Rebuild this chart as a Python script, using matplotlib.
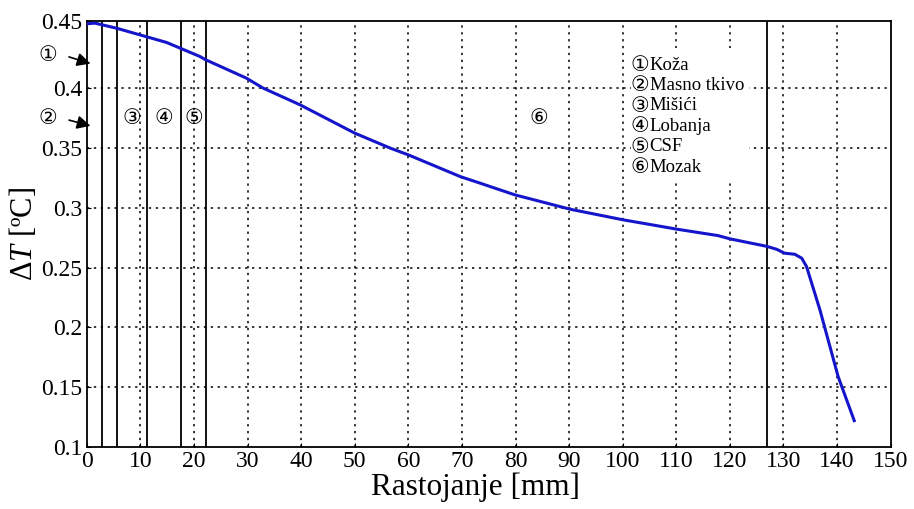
import matplotlib
matplotlib.use('Agg')
import matplotlib.pyplot as plt
from matplotlib.patches import Rectangle

plt.rcParams['font.family'] = ['Liberation Serif', 'DejaVu Sans']
plt.rcParams['mathtext.fontset'] = 'custom'
plt.rcParams['mathtext.it'] = 'Liberation Serif:italic'
plt.rcParams['mathtext.rm'] = 'Liberation Serif'

# curve
x_mm = [0, 1.5, 5.5, 14.9, 21.1, 22.2, 29.8, 32.9, 39.8, 50.0, 56.6, 60.0, 69.7,
        73.4, 77.1, 79.9, 90.2, 100.1, 110.1, 117.8, 120.0, 126.8, 128.7, 130.2,
        132.1, 133.4, 134.3, 136.8, 140.2, 143.2]
dT = [0.4540, 0.4546, 0.4504, 0.4384, 0.4267, 0.4239, 0.4085, 0.4002, 0.3862,
      0.3625, 0.3500, 0.3443, 0.3261, 0.3206, 0.3150, 0.3108, 0.2988, 0.2899,
      0.2821, 0.2767, 0.2740, 0.2678, 0.2653, 0.2620, 0.2611, 0.2578, 0.2508,
      0.2145, 0.1586, 0.1218]

# tissue boundaries [mm]
boundaries = [2.8, 5.7, 11.2, 17.6, 22.2, 126.9]

layer_names = ['Koža', 'Masno tkivo', 'Mišići', 'Lobanja', 'CSF', 'Mozak']
circled = ['①', '②', '③', '④', '⑤', '⑥']

x_ticks = list(range(0, 151, 10))
y_ticks = [0.1, 0.15, 0.2, 0.25, 0.3, 0.35, 0.4]
y_top = 0.4566

circ = dict(family='DejaVu Sans', fontsize=15, ha='center', va='center')

fig = plt.figure(figsize=(9.14, 5.09), dpi=100)
ax = fig.add_axes([0.0949, 0.1224, 0.8796, 0.8369])

ax.set_xlim(0, 150)
ax.set_ylim(0.1, y_top)
ax.set_xticks(x_ticks)
ax.set_yticks(y_ticks + [y_top])
ax.set_yticklabels(['0.1', '0.15', '0.2', '0.25', '0.3', '0.35', '0.4', '0.45'])
ax.tick_params(direction='in', length=3, labelsize=17, pad=3)

for xt in x_ticks[1:-1]:
    ax.axvline(xt, color='k', ls=(0, (1.5, 3)), lw=1.1, zorder=1)
for yt in y_ticks[1:]:
    ax.axhline(yt, color='k', ls=(0, (1.5, 3)), lw=1.1, zorder=1)

for b in boundaries:
    ax.axvline(b, color='k', lw=1.3, zorder=2)

ax.plot(x_mm, dT, color='#1515cc', lw=2.2, zorder=4)

for sp in ax.spines.values():
    sp.set_linewidth(1.3)

# white box behind the layer list
ax.add_patch(Rectangle((0.677, 0.626), 0.147, 0.31, transform=ax.transAxes,
                       facecolor='white', edgecolor='none', zorder=3))
for i, (c, name) in enumerate(zip(circled, layer_names)):
    yy = 0.896 - i * 0.048
    ax.text(0.6885, yy, c, transform=ax.transAxes, zorder=5, **circ)
    ax.text(0.700, yy, name, transform=ax.transAxes, fontsize=13.5,
            va='center', ha='left', zorder=5)

# layer numbers inside the plot
for c, xc in zip(circled[2:], [8.4, 14.3, 19.9, 84.4]):
    ax.text(xc, 0.3755, c, **circ)

# arrows for skin and fat
for c, yt, ytip in [(circled[0], 0.428, 0.4200), (circled[1], 0.375, 0.3680)]:
    ax.text(-7.2, yt, c, clip_on=False, **circ)
    ax.annotate('', xy=(1.2, ytip), xytext=(-3.8, yt - 0.001),
                arrowprops=dict(arrowstyle='-|>', color='k', lw=1.2,
                                mutation_scale=20),
                annotation_clip=False)

ax.set_xlabel('Rastojanje [mm]', fontsize=22.5, labelpad=0)
ax.xaxis.set_label_coords(0.484, -0.06)
ax.set_ylabel(r'Δ$T$ [ºC]', fontsize=22, labelpad=2)

fig.savefig('out.png', dpi=100)
